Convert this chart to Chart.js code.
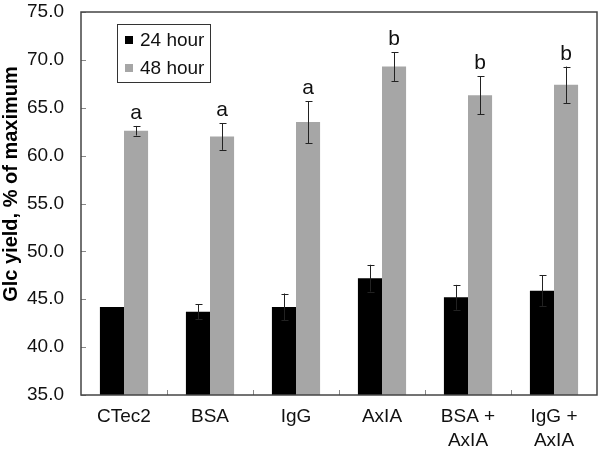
<!DOCTYPE html>
<html>
<head>
<meta charset="utf-8">
<script src="https://cdn.jsdelivr.net/npm/chart.js@4"></script>
<style>
  html, body { margin: 0; padding: 0; background: #fff; }
  #wrap { width: 600px; height: 450px; }
</style>
</head>
<body>
<div id="wrap"><canvas id="glcChart" width="600" height="450"></canvas></div>
<script>
// data
const categories = [['CTec2'], ['BSA'], ['IgG'], ['AxIA'], ['BSA +', 'AxIA'], ['IgG +', 'AxIA']];
const hour24 = [44.2, 43.7, 44.2, 47.2, 45.2, 45.9];
const hour24Err = [0.0, 0.8, 1.4, 1.4, 1.3, 1.6];
const hour48 = [62.6, 62.0, 63.5, 69.3, 66.3, 67.4];
const hour48Err = [0.5, 1.4, 2.2, 1.5, 2.0, 1.9];
const sigLetters = ['a', 'a', 'a', 'b', 'b', 'b'];
const yTicks = [35, 40, 45, 50, 55, 60, 65, 70, 75];
const yTitle = 'Glc yield, % of maximum';

const FONT = 'Arial, "Liberation Sans", sans-serif';

// error bars, letters, inward ticks, frame, y title and the boxed legend
const extras = {
    id: 'extras',
    afterDatasetsDraw(chart) {
        const c = chart.ctx;
        const area = chart.chartArea;
        const y = chart.scales.y;
        const x = chart.scales.x;
        c.save();
        c.strokeStyle = '#222';
        c.lineWidth = 1;
        const errSets = [hour24Err, hour48Err];
        chart.data.datasets.forEach((ds, di) => {
            const meta = chart.getDatasetMeta(di);
            meta.data.forEach((bar, i) => {
                const err = errSets[di][i];
                const v = ds.data[i];
                const top = y.getPixelForValue(v + err);
                const bot = y.getPixelForValue(v - err);
                const bx = Math.round(bar.x) + 0.5;
                if (err) {
                    c.beginPath();
                    c.moveTo(bx, top); c.lineTo(bx, bot);
                    c.moveTo(bx - 3, Math.round(top) + 0.5); c.lineTo(bx + 4, Math.round(top) + 0.5);
                    c.moveTo(bx - 3, Math.round(bot) + 0.5); c.lineTo(bx + 4, Math.round(bot) + 0.5);
                    c.stroke();
                }
                if (di === 1) {
                    c.fillStyle = '#111';
                    c.font = '21px ' + FONT;
                    c.textAlign = 'center';
                    c.textBaseline = 'alphabetic';
                    c.fillText(sigLetters[i], bar.x, top - 7);
                }
            });
        });

        // inward ticks
        c.strokeStyle = '#888';
        yTicks.forEach(t => {
            const py = Math.round(y.getPixelForValue(t)) + 0.5;
            c.beginPath(); c.moveTo(area.left, py); c.lineTo(area.left + 5, py); c.stroke();
        });
        for (let i = 1; i < categories.length; i++) {
            const px = Math.round((x.getPixelForValue(i - 1) + x.getPixelForValue(i)) / 2) + 0.5;
            c.beginPath(); c.moveTo(px, area.bottom); c.lineTo(px, area.bottom - 5); c.stroke();
        }

        // frame
        c.strokeStyle = '#444';
        c.lineWidth = 1.5;
        c.strokeRect(area.left, area.top, area.right - area.left, area.bottom - area.top);

        // y title
        c.save();
        c.translate(11, 184);
        c.rotate(-Math.PI / 2);
        c.fillStyle = '#000';
        c.font = 'bold 20px ' + FONT;
        c.textAlign = 'center';
        c.textBaseline = 'middle';
        c.fillText(yTitle, 0, 0);
        c.restore();

        // legend box
        const lx = area.left + 36, ly = area.top + 12, lw = 93, lh = 58;
        c.fillStyle = '#fff';
        c.fillRect(lx, ly, lw, lh);
        c.strokeStyle = '#333';
        c.lineWidth = 1;
        c.strokeRect(lx + 0.5, ly + 0.5, lw, lh);
        c.font = '19px ' + FONT;
        c.textAlign = 'left';
        c.textBaseline = 'middle';
        chart.data.datasets.forEach((ds, di) => {
            const ry = ly + 16 + di * 28;
            c.fillStyle = ds.backgroundColor;
            c.fillRect(lx + 8, ry - 4, 8, 8);
            c.fillStyle = '#111';
            c.fillText(ds.label, lx + 23, ry + 1);
        });
        c.restore();
    }
};

new Chart(document.getElementById('glcChart'), {
    type: 'bar',
    data: {
        labels: categories,
        datasets: [{
            label: '24 hour',
            data: hour24,
            backgroundColor: '#000000',
            categoryPercentage: 0.56,
            barPercentage: 1.0
        }, {
            label: '48 hour',
            data: hour48,
            backgroundColor: '#a6a6a6',
            categoryPercentage: 0.56,
            barPercentage: 1.0
        }]
    },
    options: {
        responsive: false,
        animation: false,
        layout: { padding: { left: 27, right: 3, top: 0, bottom: 0 } },
        plugins: {
            legend: { display: false },
            tooltip: { enabled: false }
        },
        scales: {
            x: {
                grid: { display: false, drawTicks: false },
                border: { display: false },
                ticks: { color: '#111', font: { family: FONT, size: 19, lineHeight: 1.3 }, padding: 9, maxRotation: 0 },
                afterFit: (scale) => { scale.paddingLeft = 0; scale.paddingRight = 0; scale.height = 55; }
            },
            y: {
                min: 35,
                max: 75,
                afterBuildTicks: (scale) => { scale.ticks = yTicks.map(v => ({ value: v })); },
                afterFit: (scale) => { scale.paddingTop = 12; scale.paddingBottom = 0; scale.width = 54; },
                grid: { display: false, drawTicks: false },
                border: { display: false },
                ticks: {
                    color: '#111',
                    font: { family: FONT, size: 19 },
                    padding: 17,
                    callback: (v) => Number(v).toFixed(1)
                }
            }
        }
    },
    plugins: [extras]
});
</script>
</body>
</html>
